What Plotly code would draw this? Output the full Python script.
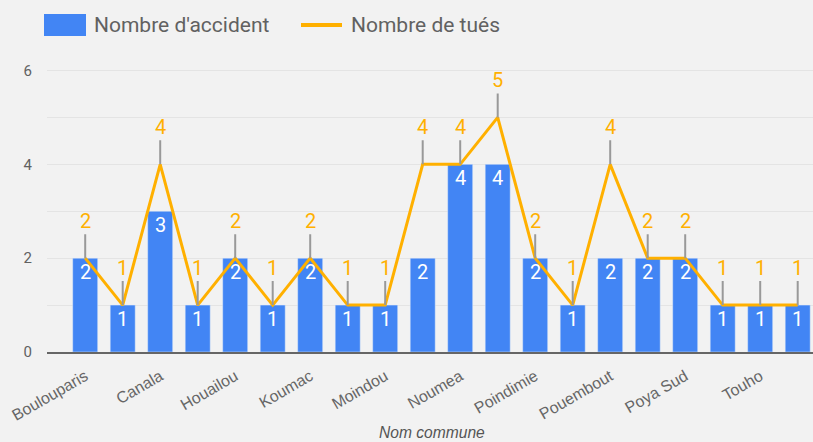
import plotly.graph_objects as go

communes = ["Boulouparis", "Bourail", "Canala", "Dumbea", "Houailou", "Kone",
            "Koumac", "La Foa", "Moindou", "Mont-Dore", "Noumea", "Paita",
            "Poindimie", "Ponerihouen", "Pouembout", "Poum", "Poya Sud",
            "Thio", "Touho", "Voh"]
accidents = [2, 1, 3, 1, 2, 1, 2, 1, 1, 2, 4, 4, 2, 1, 2, 2, 2, 1, 1, 1]
tues = [2, 1, 4, 1, 2, 1, 2, 1, 1, 4, 4, 5, 2, 1, 4, 2, 2, 1, 1, 1]
shown_ticks = communes[::2]
y_ticks = [0, 2, 4, 6]

BLUE = "#4285F4"
ORANGE = "#FFB000"
GREY_TXT = "#616161"
BG = "#F2F2F2"

W, H = 813, 442
ML, MR, MT, MB = 47, 0, 50, 90
PH = H - MT - MB
PW = W - ML - MR
PX_PER_UNIT = 46.92
YMAX = PH / PX_PER_UNIT
CAT_PX = 37.5
x0 = -(85.2 - ML) / CAT_PX
x1 = x0 + PW / CAT_PX


def px_x(p):
    return (p - ML) / PW


def px_y(p):
    return (H - MB - p) / PH


fig = go.Figure()
fig.add_trace(go.Bar(x=communes, y=accidents, name="Nombre d'accident",
                     marker_color=BLUE, width=0.667, showlegend=False,
                     hoverinfo="x+y"))
fig.add_trace(go.Scatter(x=communes, y=tues, name="Nombre de tués",
                         mode="lines", line=dict(color=ORANGE, width=3),
                         showlegend=False, hoverinfo="x+y"))

annotations = []
for c, v in zip(communes, accidents):
    annotations.append(dict(x=c, y=v, xref="x", yref="y", text=str(v),
                            showarrow=False, yanchor="top", yshift=0,
                            font=dict(family="Roboto", size=20, color="white")))
for c, v in zip(communes, tues):
    annotations.append(dict(x=c, y=v, xref="x", yref="y", text=str(v),
                            showarrow=True, arrowhead=0, arrowwidth=2,
                            arrowcolor="#999999", ax=0, ay=-24,
                            yanchor="bottom", borderpad=0, standoff=0,
                            font=dict(family="Roboto", size=20, color=ORANGE)))

# legend (manual, to match the large swatches)
shapes = [
    dict(type="rect", xref="paper", yref="paper",
         x0=px_x(44), x1=px_x(86), y0=px_y(36), y1=px_y(14),
         fillcolor=BLUE, line=dict(width=0)),
    dict(type="line", xref="paper", yref="paper",
         x0=px_x(301), x1=px_x(342), y0=px_y(25), y1=px_y(25),
         line=dict(color=ORANGE, width=4)),
]
annotations.append(dict(xref="paper", yref="paper", x=px_x(92), y=px_y(25),
                        xanchor="left", yanchor="middle", showarrow=False,
                        text="Nombre d'accident",
                        font=dict(family="Roboto", size=21, color=GREY_TXT)))
annotations.append(dict(xref="paper", yref="paper", x=px_x(349), y=px_y(25),
                        xanchor="left", yanchor="middle", showarrow=False,
                        text="Nombre de tués",
                        font=dict(family="Roboto", size=21, color=GREY_TXT)))
annotations.append(dict(xref="paper", yref="paper", x=px_x(432), y=px_y(442),
                        xanchor="center", yanchor="bottom", showarrow=False,
                        text="<i>Nom commune</i>", borderpad=0,
                        font=dict(family="Liberation Sans, Arial", size=15.6,
                                  color="#555555")))

fig.update_layout(
    width=W, height=H,
    margin=dict(l=ML, r=MR, t=MT, b=MB, pad=0),
    paper_bgcolor=BG, plot_bgcolor=BG,
    bargap=0.33,
    showlegend=False,
    annotations=annotations,
    shapes=shapes,
    xaxis=dict(type="category", range=[x0, x1], tickmode="array",
               tickvals=shown_ticks, ticktext=shown_ticks, tickangle=-30,
               tickfont=dict(family="Liberation Sans, Arial", size=16,
                             color="#666666"),
               showgrid=False, showline=True, linecolor="#666666",
               linewidth=2, ticks="", zeroline=False, ticklabelstandoff=7),
    yaxis=dict(range=[0, YMAX], tickmode="array", tickvals=y_ticks,
               tickfont=dict(family="Roboto", size=15, color=GREY_TXT),
               showgrid=True, gridcolor="#E4E4E4", gridwidth=1,
               minor=dict(dtick=1, showgrid=True, gridcolor="#E4E4E4",
                          gridwidth=1),
               zeroline=False, ticks="", ticklabelstandoff=14),
)

fig.write_html("out.html", config={"displayModeBar": False},
               post_script="document.body.style.margin='0';document.body.style.background='%s';" % BG)
